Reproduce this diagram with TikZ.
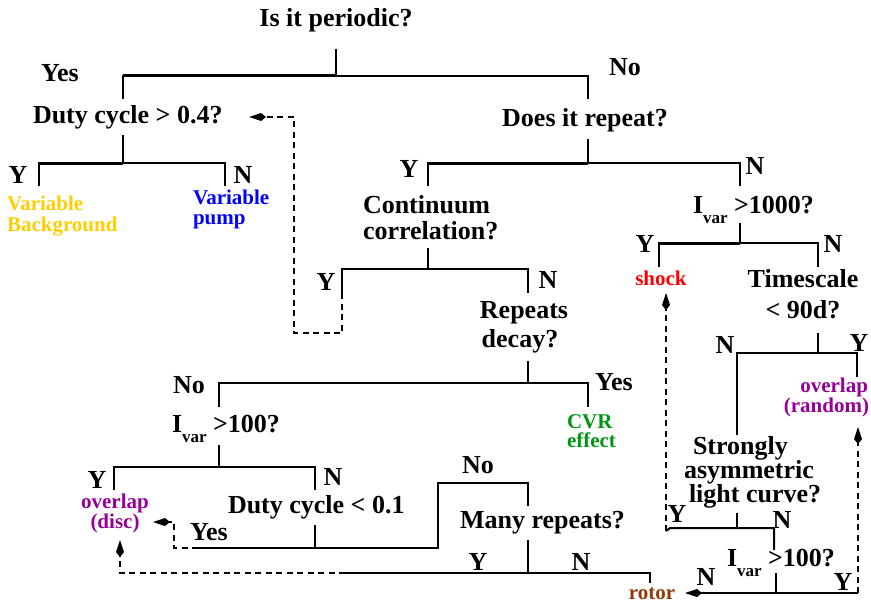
\documentclass[tikz,border=0pt]{standalone}
\usepackage{fontspec}
\setmainfont{Liberation Serif}
\usetikzlibrary{arrows.meta}
\definecolor{cyel}{RGB}{255,206,0}
\definecolor{cblu}{RGB}{0,0,255}
\definecolor{cred}{RGB}{255,0,0}
\definecolor{cgrn}{RGB}{0,150,20}
\definecolor{cpur}{RGB}{150,0,150}
\definecolor{cbrn}{RGB}{150,55,10}
\newcommand{\ivarsub}{\raisebox{-10pt}{\fontsize{17}{17}\selectfont var}}
\begin{document}
\begin{tikzpicture}[x=1pt,y=-1pt,
 txt/.style={font=\fontsize{26}{28}\selectfont\bfseries, inner sep=0pt, outer sep=0pt},
 ctxt/.style={font=\fontsize{21}{22}\selectfont\bfseries, inner sep=0pt, outer sep=0pt},
 thn/.style={line width=2pt},
 thk/.style={line width=3pt},
 dsh/.style={line width=1.8pt, dash pattern=on 6pt off 4.5pt},
 tip/.style={-{Kite[length=17pt,width=8pt,inset=5pt]}},
]
\useasboundingbox (0,0) rectangle (871,602);

% ---------- texts ----------
\node[txt,anchor=base] (root) at (336,27) {Is it periodic?};
\node[txt,anchor=base] (yes1) at (60,82) {Yes};
\node[txt,anchor=base] (no1) at (625,76) {No};
\node[txt,anchor=base west] (dc4) at (33,124) {Duty cycle > 0.4?};
\node[txt,anchor=base] (rep) at (585,127) {Does it repeat?};
\node[txt,anchor=base] (y2) at (18,183) {Y};
\node[txt,anchor=base] (n2) at (243,183) {N};
\node[ctxt,cyel,anchor=base west] (vb1) at (7,210) {Variable};
\node[ctxt,cyel,anchor=base west] (vb2) at (7,231) {Background};
\node[ctxt,cblu,anchor=base west] (vp1) at (193,204) {Variable};
\node[ctxt,cblu,anchor=base west] (vp2) at (193,224) {pump};
\node[txt,anchor=base] (y3) at (409,177) {Y};
\node[txt,anchor=base] (n3) at (755,174) {N};
\node[txt,anchor=base west] (cc1) at (363,213) {Continuum};
\node[txt,anchor=base west] (cc2) at (363,239) {correlation?};
\node[txt,anchor=base west] (iv1) at (693,213) {I\ivarsub{} >1000?};
\node[txt,anchor=base] (y4) at (645,252) {Y};
\node[txt,anchor=base] (n4) at (833,252) {N};
\node[ctxt,cred,anchor=base] (shock) at (661,285) {shock};
\node[txt,anchor=base] (ts1) at (803,287) {Timescale};
\node[txt,anchor=base] (ts2) at (803,318) {< 90d?};
\node[txt,anchor=base] (y5) at (326,290) {Y};
\node[txt,anchor=base] (n5) at (548,288) {N};
\node[txt,anchor=base] (rd1) at (524,318) {Repeats};
\node[txt,anchor=base] (rd2) at (520,347) {decay?};
\node[txt,anchor=base] (n6) at (725,353) {N};
\node[txt,anchor=base] (y6) at (859,351) {Y};
\node[ctxt,cpur,anchor=base east] (ovr1) at (868,392) {overlap};
\node[ctxt,cpur,anchor=base east] (ovr2) at (869,412) {(random)};
\node[txt,anchor=base] (no7) at (189,393) {No};
\node[txt,anchor=base] (yes7) at (614,390) {Yes};
\node[ctxt,cgrn,anchor=base west] (cvr1) at (567,428) {CVR};
\node[ctxt,cgrn,anchor=base west] (cvr2) at (567,447) {effect};
\node[txt,anchor=base west] (iv2) at (172,432) {I\ivarsub{} >100?};
\node[txt,anchor=base] (y8) at (97,488) {Y};
\node[ctxt,cpur,anchor=base] (od1) at (115,508) {overlap};
\node[ctxt,cpur,anchor=base] (od2) at (115,528) {(disc)};
\node[txt,anchor=base] (n8) at (333,485) {N};
\node[txt,anchor=base west] (dc1) at (228,513) {Duty cycle < 0.1};
\node[txt,anchor=base] (yes9) at (209,540) {Yes};
\node[txt,anchor=base] (no10) at (478,473) {No};
\node[txt,anchor=base west] (mr) at (460,528) {Many repeats?};
\node[txt,anchor=base] (y10) at (478,570) {Y};
\node[txt,anchor=base] (n10) at (581,570) {N};
\node[txt,anchor=base west] (sa1) at (693,454) {Strongly};
\node[txt,anchor=base west] (sa2) at (684,478) {asymmetric};
\node[txt,anchor=base west] (sa3) at (689,502) {light curve?};
\node[txt,anchor=base] (y11) at (677,522) {Y};
\node[txt,anchor=base] (n11) at (782,528) {N};
\node[txt,anchor=base west] (iv3) at (727,566) {I\ivarsub{} >100?};
\node[txt,anchor=base] (n12) at (706,585) {N};
\node[txt,anchor=base] (y12) at (843,590) {Y};
\node[ctxt,cbrn,anchor=base] (rotor) at (652,599) {rotor};

% ---------- junction coordinates ----------
\coordinate (s1) at (336,49);  \coordinate (j1) at (336,76);  \coordinate (l1) at (123,99);  \coordinate (r1) at (588,99);
\coordinate (s2) at (123,135); \coordinate (j2) at (123,163); \coordinate (l2) at (39,186);  \coordinate (r2) at (225,186);
\coordinate (s3) at (588,139); \coordinate (j3) at (588,163); \coordinate (l3) at (428,186); \coordinate (r3) at (740,186);
\coordinate (s4) at (740,223); \coordinate (j4) at (740,243); \coordinate (l4) at (659,267); \coordinate (r4) at (818,267);
\coordinate (s5) at (428,248); \coordinate (j5) at (428,269); \coordinate (l5) at (342,293); \coordinate (r5) at (528,293);
\coordinate (s6) at (818,333); \coordinate (j6) at (818,353); \coordinate (l6) at (737,435); \coordinate (r6) at (857,377);
\coordinate (s7) at (528,361); \coordinate (j7) at (528,383); \coordinate (l7) at (219,407); \coordinate (r7) at (588,407);
\coordinate (s8) at (219,445); \coordinate (j8) at (219,467); \coordinate (l8) at (114,490); \coordinate (r8) at (315,490);
\coordinate (s9) at (315,525); \coordinate (j9) at (315,548); \coordinate (l9) at (198,548);
\coordinate (c9) at (438,483); \coordinate (r9) at (528,506);
\coordinate (s10) at (528,540); \coordinate (j10) at (528,573); \coordinate (l10) at (345,573); \coordinate (r10) at (650,583);
\coordinate (s11) at (737,513); \coordinate (j11) at (737,528); \coordinate (l11) at (670,528); \coordinate (r11) at (774,550);
\coordinate (k11) at (666,531);
\coordinate (s12) at (776,573); \coordinate (j12) at (776,593); \coordinate (r12) at (858,593);
% dashed feedback targets
\coordinate (d5) at (294,333); \coordinate (t5) at (249,117);
\coordinate (d9) at (174,522); \coordinate (t9) at (153,522);
\coordinate (t10) at (120,540);
\coordinate (t11) at (666,293);
\coordinate (t12) at (685,593);
\coordinate (u12) at (858,427);

% ---------- solid tree ----------
\draw[thn] (s1) -- (j1);  \draw[thn] (l1) |- (j1) -| (r1);  \draw[thk] (l1|-j1) -- (j1);
\draw[thn] (s2) -- (j2);  \draw[thn] (l2) |- (j2) -| (r2);  \draw[thk] (l2|-j2) -- (j2);
\draw[thn] (s3) -- (j3);  \draw[thn] (l3) |- (j3) -| (r3);  \draw[thk] (l3|-j3) -- (j3);
\draw[thn] (s4) -- (j4);  \draw[thn] (l4) |- (j4) -| (r4);  \draw[thk] (l4|-j4) -- (j4);
\draw[thn] (s5) -- (j5);  \draw[thn] (l5) |- (j5) -| (r5);
\draw[thn] (s6) -- (j6);  \draw[thn] (l6) |- (j6) -| (r6);
\draw[thn] (s7) -- (j7);  \draw[thn] (l7) |- (j7) -| (r7);
\draw[thn] (s8) -- (j8);  \draw[thn] (l8) |- (j8) -| (r8);
\draw[thn] (s9) -- (j9);  \draw[thn] (l9) -- (j9) -| (c9) -| (r9);
\draw[thn] (s10) -- (j10); \draw[thn] (l10) -- (j10) -| (r10);
\draw[thn] (s11) -- (j11); \draw[thn] (k11) -- (l11) -- (j11) -| (r11);
\draw[thn] (s12) -- (j12); \draw[thn,tip] (r12) -- (t12);

% ---------- dashed feedback ----------
\draw[dsh,tip] (l5) |- (d5) |- (t5);
\draw[dsh,tip] (l9) -| (d9) -- (t9);
\draw[dsh,tip] (l10) -| (t10);
\draw[dsh,tip] (k11) -- (t11);
\draw[dsh,tip] (r12) -- (u12);
\end{tikzpicture}
\end{document}
